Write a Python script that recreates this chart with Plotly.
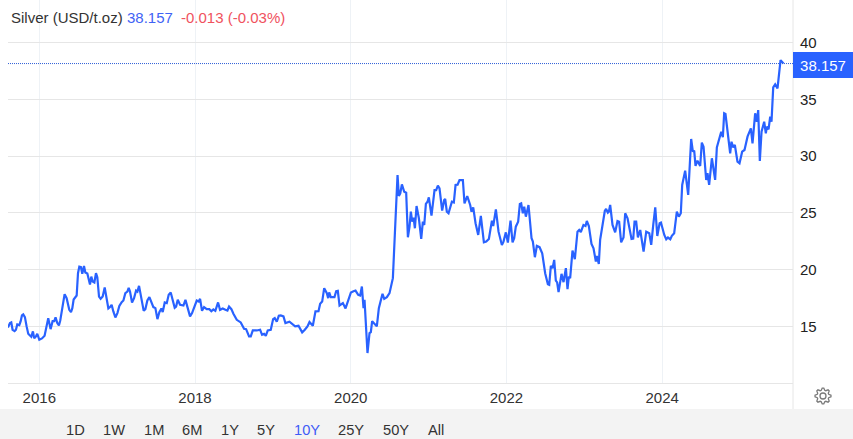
import math
import plotly.graph_objects as go

years = [
2015.597,2015.623,2015.640,2015.657,2015.683,2015.700,2015.717,2015.743,2015.760,2015.777,2015.794,2015.815,2015.837,2015.858,2015.880,2015.897,2015.918,2015.935,2015.957,2015.974,
2016.000,2016.034,2016.068,2016.094,2016.115,2016.145,2016.171,2016.192,2016.209,2016.231,2016.252,2016.269,2016.299,2016.325,2016.351,2016.385,2016.407,2016.424,2016.441,2016.480,
2016.497,2016.514,2016.535,2016.552,2016.574,2016.591,2016.617,2016.651,2016.668,2016.685,2016.707,2016.728,2016.745,2016.767,2016.788,2016.814,2016.840,2016.865,2016.887,2016.908,
2016.929,2016.951,2016.977,2017.003,2017.028,2017.058,2017.080,2017.105,2017.131,2017.148,2017.165,2017.191,2017.217,2017.243,2017.260,2017.281,2017.302,2017.341,2017.362,2017.388,
2017.414,2017.440,2017.465,2017.491,2017.517,2017.542,2017.568,2017.585,2017.611,2017.637,2017.662,2017.688,2017.714,2017.739,2017.757,2017.778,2017.808,2017.851,2017.877,2017.902,
2017.936,2017.962,2017.996,2018.022,2018.047,2018.065,2018.090,2018.116,2018.150,2018.184,2018.210,2018.236,2018.261,2018.296,2018.321,2018.356,2018.390,2018.416,2018.437,2018.467,
2018.493,2018.536,2018.587,2018.630,2018.656,2018.694,2018.716,2018.742,2018.793,2018.836,2018.861,2018.887,2018.909,2018.934,2018.973,2019.003,2019.024,2019.050,2019.076,2019.101,
2019.136,2019.161,2019.213,2019.256,2019.286,2019.329,2019.376,2019.410,2019.444,2019.470,2019.513,2019.547,2019.586,2019.607,2019.633,2019.659,2019.693,2019.710,2019.723,2019.744,
2019.791,2019.813,2019.834,2019.856,2019.899,2019.933,2019.967,2020.002,2020.035,2020.061,2020.096,2020.121,2020.143,2020.164,2020.177,2020.198,2020.215,2020.241,2020.258,2020.275,
2020.310,2020.335,2020.361,2020.408,2020.430,2020.464,2020.498,2020.541,2020.567,2020.584,2020.601,2020.618,2020.636,
2020.657,2020.687,2020.712,2020.734,2020.755,2020.772,2020.789,2020.807,2020.824,2020.845,2020.875,2020.905,2020.926,2020.944,2020.965,2020.986,2021.003,2021.037,2021.076,2021.097,
2021.119,2021.140,2021.174,2021.200,2021.213,2021.234,2021.256,2021.277,2021.299,2021.324,2021.346,2021.372,2021.397,2021.440,2021.461,2021.496,2021.534,2021.551,2021.573,2021.603,
2021.637,2021.671,2021.710,2021.740,2021.774,2021.813,2021.830,2021.864,2021.898,2021.941,2021.962,2021.992,2022.018,2022.052,2022.078,2022.099,2022.120,2022.150,2022.172,2022.189,
2022.210,2022.228,2022.249,2022.283,2022.322,2022.339,2022.365,2022.390,2022.425,2022.459,2022.497,2022.532,2022.549,2022.570,2022.592,2022.613,2022.634,2022.651,2022.669,2022.707,
2022.733,2022.763,2022.784,2022.801,2022.818,2022.848,2022.878,2022.912,2022.934,2022.955,2022.989,2023.015,2023.032,2023.058,2023.092,2023.118,2023.148,2023.161,2023.186,2023.203,
2023.233,2023.263,2023.280,2023.302,2023.315,2023.332,2023.362,2023.396,2023.426,2023.447,2023.473,2023.503,2023.525,2023.555,2023.606,2023.628,2023.645,2023.666,2023.688,2023.718,
2023.761,2023.795,2023.834,2023.859,2023.885,2023.911,2023.937,2023.967,2023.984,2024.027,2024.052,2024.074,2024.104,
2024.124,2024.154,2024.188,2024.214,2024.239,2024.257,2024.295,2024.334,2024.372,2024.394,2024.411,2024.428,2024.453,2024.488,2024.509,2024.531,2024.565,2024.582,2024.603,2024.638,
2024.680,2024.702,2024.736,2024.758,2024.779,2024.796,2024.813,2024.843,2024.873,2024.890,2024.912,2024.933,2024.967,2024.993,2025.027,2025.057,2025.096,2025.139,2025.160,2025.194,
2025.216,2025.233,2025.254,2025.276,2025.310,2025.331,2025.344,2025.366,2025.387,2025.404,2025.426,2025.451,2025.481,2025.520,2025.558,
]

prices = [
14.90,15.28,15.34,14.69,14.57,14.69,15.16,15.10,15.43,15.95,16.04,15.81,14.99,14.34,14.19,14.08,14.55,13.93,14.11,14.34,
13.81,13.93,14.16,14.99,15.72,14.75,15.45,15.45,15.78,15.28,15.07,15.51,16.74,17.83,17.48,16.45,16.25,16.60,17.36,17.71,
19.68,20.26,20.21,19.62,20.32,19.74,19.65,18.68,19.38,18.94,18.86,19.68,19.33,17.62,17.42,17.62,18.42,17.33,16.57,16.69,
16.89,16.31,15.78,16.16,16.80,17.13,17.27,17.92,18.06,18.39,18.06,17.10,17.48,18.15,18.06,18.56,17.77,16.36,16.51,17.27,
17.57,17.18,16.69,16.60,15.63,16.25,16.57,16.25,17.10,17.04,17.77,17.98,17.33,16.63,16.74,17.33,16.89,16.83,17.33,16.74,
15.87,16.16,16.89,17.27,17.18,17.42,16.36,16.69,16.51,16.51,16.33,16.48,16.36,17.10,16.45,16.57,16.45,16.39,16.74,16.51,
16.10,15.57,15.34,14.78,14.75,14.11,14.11,14.63,14.63,14.69,14.25,14.34,14.16,14.63,14.69,15.63,15.72,15.40,15.92,15.95,
15.87,15.28,15.40,15.13,14.99,15.04,14.46,14.69,14.99,15.37,15.04,16.31,16.33,16.98,17.18,18.36,17.92,17.48,17.98,17.57,
17.57,18.09,18.12,16.83,17.04,16.57,17.18,17.98,18.09,18.15,17.77,17.71,18.50,16.60,17.33,14.11,12.64,14.40,14.49,15.45,
15.22,14.99,16.60,17.86,17.42,17.57,17.92,19.24,23.20,25.25,28.33,26.48,26.72,
27.51,26.86,26.77,22.84,23.78,25.10,24.22,24.58,23.64,25.60,24.52,22.70,24.22,23.93,25.78,25.98,26.36,24.75,27.01,27.01,
27.39,27.16,25.19,26.13,26.22,25.10,24.96,25.48,25.98,25.92,27.45,27.48,27.89,27.89,25.84,26.48,25.69,25.10,25.48,24.08,
23.05,24.72,22.40,22.46,22.70,24.31,23.84,25.31,23.34,22.17,22.46,23.28,22.38,24.31,22.40,22.76,23.78,24.22,25.78,25.84,
24.96,25.54,24.66,25.69,22.76,22.46,21.09,22.08,21.97,21.44,19.68,18.71,18.65,20.32,20.12,20.85,19.03,18.86,18.01,19.62,
18.89,20.12,18.27,19.38,19.24,21.67,20.91,23.34,23.49,23.31,23.93,23.84,24.28,23.84,22.26,21.88,20.70,21.20,20.50,22.61,
23.93,25.16,25.34,25.01,25.10,25.69,23.93,23.28,24.28,24.22,22.40,22.82,24.96,24.52,22.70,22.73,24.22,24.22,22.84,23.49,
21.58,23.34,23.20,22.17,23.93,25.48,22.96,24.08,24.14,23.05,22.67,22.82,22.67,
22.97,23.20,25.11,24.67,24.96,27.46,28.72,26.58,31.51,30.39,30.48,29.13,29.60,29.13,31.19,30.83,27.90,28.49,27.46,29.81,
27.90,30.77,31.57,32.15,31.66,33.77,33.71,31.71,30.25,31.27,30.77,30.98,29.51,29.37,30.39,30.54,31.71,32.45,31.13,33.77,
33.03,34.06,29.57,32.15,33.03,32.01,32.59,32.36,33.47,33.03,36.06,36.32,35.97,38.46,38.157,
]

last_price = 38.157
title_parts = ["Silver (USD/t.oz)", "38.157", "-0.013 (-0.03%)"]
x_tick_values = [2016, 2018, 2020, 2022, 2024]
y_tick_values = [10, 15, 20, 25, 30, 35, 40]
y_tick_labels = ["", "15", "20", "25", "30", "35", "40"]
range_buttons = ["1D", "1W", "1M", "6M", "1Y", "5Y", "10Y", "25Y", "50Y", "All"]
button_centres = [75, 114, 153.7, 192, 230.3, 265.7, 307, 351, 396, 436]

W, H = 853, 439
L, R, T, B = 8, 60, 0, 56
PW, PH = W - L - R, H - T - B
FONT = "Liberation Sans"
BLUE = "#2962ff"
GRID_H = "#e6e6e6"
GRID_V = "#eef2f6"
INK = "#333333"


def px(x):
    return (x - L) / PW


def py(y):
    return (H - B - y) / PH


def label(text, x, y, colour=INK, anchor="left", size=14.67):
    return dict(text=text, x=px(x), y=py(y), xref="paper", yref="paper", xanchor=anchor,
                yanchor="middle", showarrow=False, font=dict(family=FONT, size=size, color=colour),
                borderpad=0, align="left")


fig = go.Figure(go.Scatter(x=years, y=prices, mode="lines", hoverinfo="skip",
                           line=dict(color=BLUE, width=2.2, shape="linear")))

annotations = [
    label(title_parts[0], 10, 17, size=15),
    label(title_parts[1], 125.5, 17, "#3f63f5", size=15),
    label(title_parts[2], 179.5, 17, "#f0525e", size=15),
]
for name, centre in zip(range_buttons, button_centres):
    annotations.append(label(name, centre, 430, "#3f5bf6" if name == "10Y" else INK, "center"))
annotations.append(dict(text=str(last_price), x=1, y=last_price, xref="paper", yref="y", xanchor="left",
                        yanchor="middle", yshift=-1.5, showarrow=False, width=60, height=26, bgcolor=BLUE,
                        font=dict(family=FONT, size=15, color="white"), align="center", borderpad=0,
                        borderwidth=0))

shapes = [
    dict(type="rect", xref="paper", yref="paper", x0=px(0), x1=px(W), y0=py(409), y1=py(H),
         fillcolor="#f3f3f3", line=dict(width=0), layer="below"),
    dict(type="line", xref="paper", yref="paper", x0=1, x1=1, y0=py(409), y1=py(0),
         line=dict(color=GRID_H, width=1), layer="below"),
    dict(type="line", xref="paper", yref="y", x0=0, x1=1, y0=last_price, y1=last_price,
         line=dict(color="#2f5fd8", width=1, dash="1px,1px")),
]

# settings gear icon
teeth = 8
gear = []
for i in range(teeth * 4):
    a = 2 * math.pi * (i - 0.5) / (teeth * 4)
    r = 8 if i % 4 in (0, 1) else 6
    gear.append((r * math.cos(a), r * math.sin(a)))
gear_path = "M " + " L ".join(f"{a:.2f} {b:.2f}" for a, b in gear) + " Z"
shapes.append(dict(type="path", xref="paper", yref="paper", xsizemode="pixel", ysizemode="pixel",
                   xanchor=px(823), yanchor=py(396), path=gear_path, line=dict(color="#7a7a7a", width=1.3)))
shapes.append(dict(type="circle", xref="paper", yref="paper", xsizemode="pixel", ysizemode="pixel",
                   xanchor=px(823), yanchor=py(396), x0=-3, x1=3, y0=-3, y1=3,
                   line=dict(color="#7a7a7a", width=1.3)))

fig.update_layout(
    width=W, height=H, autosize=False,
    margin=dict(l=L, r=R, t=T, b=B, pad=0),
    paper_bgcolor="white", plot_bgcolor="white", showlegend=False,
    annotations=annotations, shapes=shapes,
    xaxis=dict(range=[2015.598, 2025.68], tickvals=x_tick_values, tickformat="d",
               showgrid=True, gridcolor=GRID_V, gridwidth=1, zeroline=False,
               showline=True, linecolor=GRID_H, linewidth=1, ticks="", ticklen=0,
               ticklabelstandoff=1,
               tickfont=dict(family=FONT, size=15, color=INK)),
    yaxis=dict(side="right", range=[10, 43.76], tickvals=y_tick_values, ticktext=y_tick_labels,
               showgrid=True, gridcolor=GRID_H, gridwidth=1, zeroline=False,
               showline=False, ticks="", ticklen=0, ticklabelstandoff=6,
               tickfont=dict(family=FONT, size=15, color="#222222")),
)

fig.write_html("out.html", config=dict(displayModeBar=False, staticPlot=True),
               post_script="document.body.style.margin='0';document.body.style.overflow='hidden';")
